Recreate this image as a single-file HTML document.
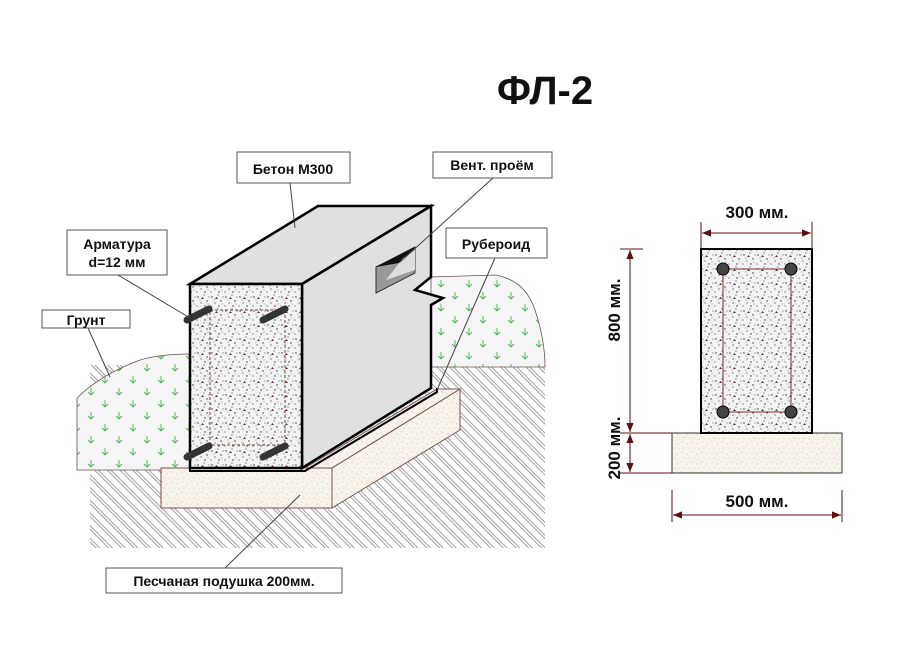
<!DOCTYPE html>
<html><head><meta charset="utf-8"><style>
html,body{margin:0;padding:0;background:#fff}
svg{display:block}
text{font-family:"Liberation Sans",sans-serif;font-weight:bold;fill:#111}
</style></head><body>
<svg width="898" height="657" viewBox="0 0 898 657" xmlns="http://www.w3.org/2000/svg">
<defs>
<pattern id="conc" width="14" height="14" patternUnits="userSpaceOnUse">
<rect width="14" height="14" fill="#f2f2f2"/>
<circle cx="2" cy="3" r="0.7" fill="#333"/><circle cx="8" cy="1" r="0.6" fill="#555"/>
<circle cx="11" cy="7" r="0.7" fill="#333"/><circle cx="5" cy="9" r="0.6" fill="#444"/>
<circle cx="1" cy="12" r="0.6" fill="#555"/><circle cx="9" cy="12" r="0.7" fill="#333"/>
<path d="M5 5 l1.5 -2 l1.5 2z" fill="#5a3030"/><circle cx="13" cy="3" r="0.5" fill="#333"/>
<circle cx="4" cy="6" r="0.5" fill="#666"/><circle cx="12" cy="10" r="0.5" fill="#666"/>
</pattern>
<pattern id="sand" width="10" height="10" patternUnits="userSpaceOnUse">
<rect width="10" height="10" fill="#f7f3ea"/>
<circle cx="2" cy="2" r="0.5" fill="#b9a68a"/><circle cx="7" cy="4" r="0.5" fill="#b9a68a"/>
<circle cx="4" cy="8" r="0.5" fill="#c2a98a"/><circle cx="9" cy="9" r="0.4" fill="#aaa"/>
</pattern>
<pattern id="grass" width="28" height="24" patternUnits="userSpaceOnUse">
<rect width="28" height="24" fill="#f5f5f5"/>
<path d="M7 4 v7 M4 8 l3 3 l3 -3 M21 16 v7 M18 20 l3 3 l3 -3" stroke="#4caf50" stroke-width="0.9" fill="none"/>
</pattern>
<pattern id="hatch" width="9" height="9" patternUnits="userSpaceOnUse" patternTransform="rotate(45)">
<rect width="9" height="9" fill="#fff"/>
<line x1="0" y1="2" x2="9" y2="2" stroke="#888" stroke-width="0.8"/>
<line x1="0" y1="4.6" x2="9" y2="4.6" stroke="#888" stroke-width="0.8"/>
</pattern>
<marker id="ar" viewBox="0 0 10 10" refX="10" refY="5" markerWidth="9" markerHeight="9" orient="auto-start-reverse"><path d="M0 1 L10 5 L0 9z" fill="#5a1010"/></marker>
</defs>

<text x="545" y="104" font-size="40" text-anchor="middle">ФЛ-2</text>

<rect x="90" y="365" width="455" height="183" fill="url(#hatch)"/>
<path d="M77 470 L77 398 Q100 375 140 360 Q160 354 190 354 L190 470 Z" fill="url(#grass)" stroke="#6a5050" stroke-width="0.8"/>
<path d="M431 277 L495 275 Q525 280 535 310 Q545 340 545 367 L431 367 Z" fill="url(#grass)" stroke="#6a5050" stroke-width="0.8"/>
<path d="M161 468 L332 468 L332 508 L161 508 Z" fill="url(#sand)" stroke="#7a5050" stroke-width="1"/>
<path d="M332 468 L460 389 L460 430 L332 508 Z" fill="url(#sand)" stroke="#7a5050" stroke-width="1"/>
<path d="M305 468 L437 389 L460 389 L332 468 Z" fill="url(#sand)" stroke="#7a5050" stroke-width="1"/>
<path d="M190 284 L318 206 L431 206 L302 284 Z" fill="#e0e0e0" stroke="#000" stroke-width="2.5"/>
<path d="M302 284 L431 206 L431 277 L415 290 L443 298 L431 305 L431 388 L302 468 Z" fill="#e0e0e0" stroke="#000" stroke-width="2.5"/>
<rect x="190" y="284" width="112" height="184" fill="url(#conc)" stroke="#000" stroke-width="2.5"/>
<path d="M190 468 L190 471 L305 471 L437 392 L437 388" fill="none" stroke="#000" stroke-width="2"/>
<path d="M376 267 L415 247 L415 273 L376 293 Z" fill="#999" stroke="#333" stroke-width="1"/>
<path d="M376 267 L415 247 L405 262 Z" fill="#111"/>
<path d="M403 258 L415 250 L415 270 L386 280 Z" fill="#ddd"/>
<rect x="210" y="310" width="75" height="135" fill="none" stroke="#7a4040" stroke-width="1" stroke-dasharray="3 2"/>
<g stroke="#333" stroke-width="7" stroke-linecap="round">
<line x1="187" y1="320" x2="209" y2="309"/><line x1="263" y1="320" x2="285" y2="309"/>
<line x1="187" y1="457" x2="209" y2="446"/><line x1="263" y1="457" x2="285" y2="446"/>
</g>

<g stroke="#444" stroke-width="1">
<line x1="290" y1="183" x2="295" y2="228"/>
<line x1="493" y1="178" x2="400" y2="262"/>
<line x1="495" y1="258" x2="437" y2="390"/>
<line x1="118" y1="275" x2="190" y2="318"/>
<line x1="88" y1="328" x2="110" y2="377"/>
<line x1="225" y1="568" x2="300" y2="495"/>
</g>
<g fill="#fff" stroke="#555" stroke-width="1">
<rect x="237" y="152" width="113" height="31"/>
<rect x="433" y="152" width="119" height="26"/>
<rect x="446" y="228" width="101" height="30"/>
<rect x="67" y="230" width="100" height="45"/>
<rect x="42" y="310" width="88" height="18"/>
<rect x="106" y="568" width="236" height="25"/>
</g>
<text x="293" y="174" font-size="14" text-anchor="middle">Бетон  М300</text>
<text x="492" y="170" font-size="14" text-anchor="middle">Вент. проём</text>
<text x="496" y="249" font-size="14" text-anchor="middle">Рубероид</text>
<text x="117" y="249" font-size="14" text-anchor="middle">Арматура</text>
<text x="117" y="267" font-size="14" text-anchor="middle">d=12 мм</text>
<text x="86" y="325" font-size="14" text-anchor="middle">Грунт</text>
<text x="224" y="586" font-size="14" text-anchor="middle">Песчаная подушка 200мм.</text>

<rect x="672" y="433" width="170" height="40" fill="url(#sand)" stroke="#333" stroke-width="1"/>
<rect x="701" y="249" width="111" height="184" fill="url(#conc)" stroke="#000" stroke-width="2"/>
<rect x="723" y="269" width="68" height="143" fill="none" stroke="#7a3030" stroke-width="1"/>
<g fill="#444" stroke="#000" stroke-width="1">
<circle cx="723" cy="269" r="6"/><circle cx="791" cy="269" r="6"/>
<circle cx="723" cy="412" r="6"/><circle cx="791" cy="412" r="6"/>
</g>
<g stroke="#5a1010" stroke-width="1">
<line x1="701" y1="222" x2="701" y2="249"/><line x1="812" y1="222" x2="812" y2="249"/>
<line x1="702" y1="233" x2="811" y2="233" marker-start="url(#ar)" marker-end="url(#ar)"/>
<line x1="620" y1="249" x2="643" y2="249"/><line x1="620" y1="433" x2="672" y2="433"/><line x1="620" y1="473" x2="672" y2="473"/>
<line x1="630" y1="250" x2="630" y2="432" marker-start="url(#ar)" marker-end="url(#ar)"/>
<line x1="630" y1="434" x2="630" y2="472" marker-start="url(#ar)" marker-end="url(#ar)"/>
<line x1="672" y1="490" x2="672" y2="522"/><line x1="842" y1="490" x2="842" y2="522"/>
<line x1="673" y1="515" x2="841" y2="515" marker-start="url(#ar)" marker-end="url(#ar)"/>
</g>
<text x="757" y="218" font-size="17" text-anchor="middle">300 мм.</text>
<text x="757" y="507" font-size="17" text-anchor="middle">500 мм.</text>
<text transform="translate(620,310) rotate(-90)" font-size="17" text-anchor="middle">800 мм.</text>
<text transform="translate(620,448) rotate(-90)" font-size="17" text-anchor="middle">200 мм.</text>
</svg>
</body></html>
